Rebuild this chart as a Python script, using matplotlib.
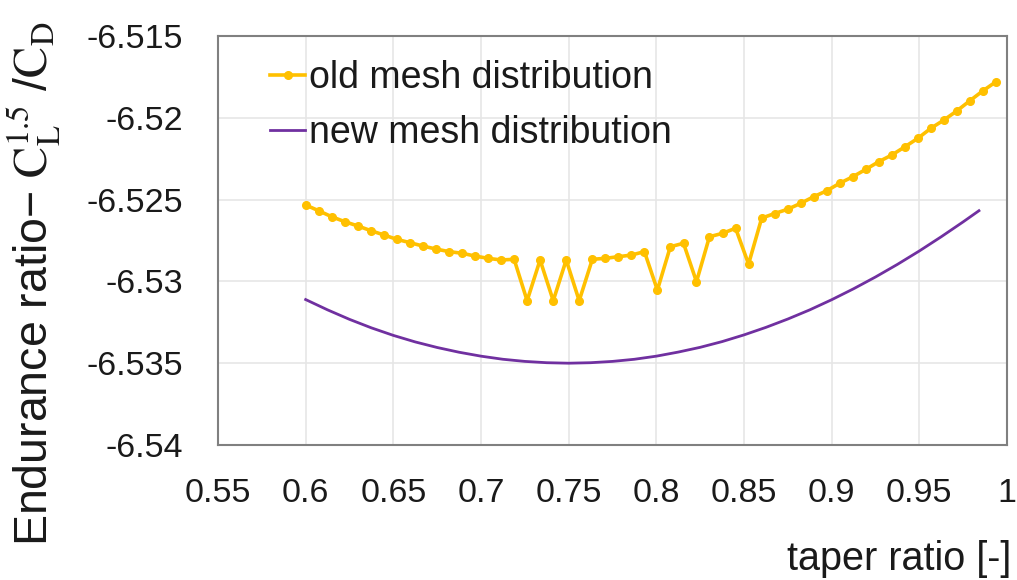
import matplotlib
matplotlib.use("Agg")
import matplotlib.pyplot as plt

plt.rcParams['font.family'] = ['Liberation Sans', 'DejaVu Sans']
plt.rcParams['mathtext.fontset'] = 'stix'

# old mesh distribution: evaluated taper ratios and endurance ratios
taper_old = [0.6000, 0.6074, 0.6149, 0.6223, 0.6297, 0.6372, 0.6446, 0.6520,
             0.6594, 0.6669, 0.6743, 0.6817, 0.6892, 0.6966, 0.7040, 0.7115,
             0.7189, 0.7263, 0.7337, 0.7412, 0.7486, 0.7560, 0.7635, 0.7709,
             0.7783, 0.7858, 0.7932, 0.8006, 0.8080, 0.8155, 0.8229, 0.8303,
             0.8378, 0.8452, 0.8526, 0.8601, 0.8675, 0.8749, 0.8823, 0.8898,
             0.8972, 0.9046, 0.9121, 0.9195, 0.9269, 0.9344, 0.9418, 0.9492,
             0.9566, 0.9641, 0.9715, 0.9789, 0.9864, 0.9938]
endurance_old = [-6.52533, -6.52568, -6.52605, -6.52635, -6.52661, -6.52690,
                 -6.52716, -6.52743, -6.52763, -6.52784, -6.52802, -6.52818,
                 -6.52828, -6.52845, -6.52859, -6.52869, -6.52865, -6.53118,
                 -6.52869, -6.53118, -6.52869, -6.53118, -6.52865, -6.52859,
                 -6.52849, -6.52839, -6.52818, -6.53053, -6.52788, -6.52767,
                 -6.53002, -6.52727, -6.52706, -6.52675, -6.52894, -6.52613,
                 -6.52585, -6.52559, -6.52523, -6.52482, -6.52446, -6.52400,
                 -6.52360, -6.52315, -6.52268, -6.52227, -6.52177, -6.52125,
                 -6.52064, -6.52013, -6.51957, -6.51895, -6.51834, -6.51779]

# new mesh distribution
taper_new = [0.6000, 0.6125, 0.6250, 0.6375, 0.6500, 0.6625, 0.6750, 0.6875,
             0.7000, 0.7125, 0.7250, 0.7375, 0.7500, 0.7625, 0.7750, 0.7875,
             0.8000, 0.8125, 0.8250, 0.8375, 0.8500, 0.8625, 0.8750, 0.8875,
             0.9000, 0.9125, 0.9250, 0.9375, 0.9500, 0.9625, 0.9750, 0.9840]
endurance_new = [-6.53111, -6.53174, -6.53232, -6.53284, -6.53330, -6.53370,
                 -6.53404, -6.53433, -6.53457, -6.53476, -6.53489, -6.53497,
                 -6.53500, -6.53497, -6.53489, -6.53476, -6.53457, -6.53432,
                 -6.53403, -6.53368, -6.53327, -6.53281, -6.53230, -6.53174,
                 -6.53112, -6.53045, -6.52973, -6.52896, -6.52814, -6.52727,
                 -6.52636, -6.52568]

x_ticks = [0.55, 0.6, 0.65, 0.7, 0.75, 0.8, 0.85, 0.9, 0.95, 1.0]
y_ticks = [-6.54, -6.535, -6.53, -6.525, -6.52, -6.515]

W, H = 1017, 580
fig = plt.figure(figsize=(W / 100, H / 100), dpi=100)
ax = fig.add_axes([218 / W, 1 - 445 / H, 789 / W, 409 / H])

text_color = '#1a1a1a'

ax.plot(taper_old, endurance_old, color='#FFC000', lw=2.6, marker='o',
        ms=5.5, label='old mesh distribution', zorder=3)
ax.plot(taper_new, endurance_new, color='#7030A0', lw=2.0,
        label='new mesh distribution', zorder=3)

ax.set_xlim(0.55, 1.0)
ax.set_ylim(-6.54, -6.515)
ax.set_xticks(x_ticks)
ax.set_yticks(y_ticks)
ax.set_xticklabels([f'{v:g}' for v in x_ticks])
ax.set_yticklabels([f'{v:g}' for v in y_ticks])
ax.tick_params(axis='both', length=0, labelsize=24.5, colors=text_color)
ax.tick_params(axis='x', pad=24)
ax.tick_params(axis='y', pad=25)

ax.grid(True, color='#e6e6e6', lw=1.2, zorder=0)
ax.set_axisbelow(True)
for sp in ax.spines.values():
    sp.set_color('#808080')
    sp.set_linewidth(1.5)

ax.set_ylabel('Endurance ratio\u2212 $\\mathrm{C_L^{1.5}}$ /$\\mathrm{C_D}$',
              fontsize=33.5, color=text_color)
ax.yaxis.set_label_coords(-0.196, 0.394)
ax.set_xlabel('taper ratio [-]', fontsize=28.5, color=text_color, loc='right')
ax.xaxis.set_label_coords(1.006, -0.233)

ax.legend(loc='upper left', bbox_to_anchor=(0.066, 0.941), frameon=False,
          fontsize=27, handlelength=0.93, handletextpad=0.1,
          labelspacing=0.5, borderpad=0, borderaxespad=0,
          labelcolor=text_color)

fig.savefig('out.png', dpi=100)
